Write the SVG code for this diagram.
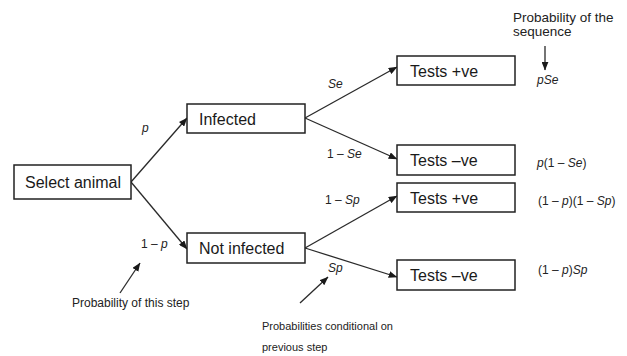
<svg xmlns="http://www.w3.org/2000/svg" width="627" height="356" viewBox="0 0 627 356">
<defs>
<marker id="ah" viewBox="0 0 10 8" refX="9.5" refY="4" markerWidth="9" markerHeight="7" markerUnits="userSpaceOnUse" orient="auto">
<path d="M0,0 L10,4 L0,8 z" fill="#1a1a1a"/>
</marker>
<style>
.box{fill:#fff;stroke:#222;stroke-width:1.5}
.nt{font-family:"Liberation Sans",Arial,sans-serif;font-size:16px;fill:#1a1a1a}
.lb{font-family:"Liberation Sans",Arial,sans-serif;font-size:12px;fill:#222}
.lg{font-size:13.5px}
.sm{font-size:11px}
.it{font-style:italic}
.cn{fill:none;stroke:#2a2a2a;stroke-width:1.3;marker-end:url(#ah)}
</style>
</defs>
<rect width="627" height="356" fill="#fff"/>
<g id="connectors">
<line class="cn" x1="131" y1="182" x2="187" y2="118"/>
<line class="cn" x1="131" y1="182" x2="187" y2="249"/>
<line class="cn" x1="305" y1="118" x2="397" y2="67"/>
<line class="cn" x1="305" y1="118" x2="397" y2="159"/>
<line class="cn" x1="305" y1="248" x2="397" y2="196"/>
<line class="cn" x1="305" y1="248" x2="397" y2="277"/>
<line class="cn" x1="120" y1="293" x2="140" y2="263"/>
<line class="cn" x1="300" y1="303" x2="328" y2="277"/>
<line class="cn" x1="545" y1="46" x2="545" y2="70"/>
</g>
<g id="select">
<rect class="box" x="14" y="165" width="117" height="34"/>
<text class="nt" x="25" y="188">Select animal</text>
</g>
<g id="infected">
<rect class="box" x="187" y="104" width="118" height="29"/>
<text class="nt" x="199" y="124.5">Infected</text>
</g>
<g id="notinfected">
<rect class="box" x="187" y="233" width="118" height="30"/>
<text class="nt" x="199" y="254">Not infected</text>
</g>
<g id="tp1">
<rect class="box" x="397" y="56" width="118" height="29"/>
<text class="nt" x="410" y="76.5">Tests +ve</text>
</g>
<g id="tn1">
<rect class="box" x="397" y="145" width="118" height="30"/>
<text class="nt" x="410" y="166">Tests –ve</text>
</g>
<g id="tp2">
<rect class="box" x="397" y="183" width="118" height="29"/>
<text class="nt" x="410" y="203.5">Tests +ve</text>
</g>
<g id="tn2">
<rect class="box" x="397" y="260" width="118" height="30"/>
<text class="nt" x="410" y="281">Tests –ve</text>
</g>
<g id="labels">
<text class="lb it" x="142" y="132">p</text>
<text class="lb" x="141" y="248">1 – <tspan class="it">p</tspan></text>
<text class="lb it" x="328" y="88">Se</text>
<text class="lb" x="327" y="158">1 – <tspan class="it">Se</tspan></text>
<text class="lb" x="325" y="204">1 – <tspan class="it">Sp</tspan></text>
<text class="lb it" x="328" y="272">Sp</text>
<text class="lb lg" x="513" y="22">Probability of the</text>
<text class="lb lg" x="513" y="36">sequence</text>
<text class="lb it" x="537" y="84">pSe</text>
<text class="lb" x="537" y="167"><tspan class="it">p</tspan>(1 – <tspan class="it">Se</tspan>)</text>
<text class="lb" x="538" y="205">(1 – <tspan class="it">p</tspan>)(1 – <tspan class="it">Sp</tspan>)</text>
<text class="lb" x="538" y="274">(1 – <tspan class="it">p</tspan>)<tspan class="it">Sp</tspan></text>
<text class="lb" x="72" y="307">Probability of this step</text>
<text class="lb sm" x="262" y="330">Probabilities conditional on</text>
<text class="lb sm" x="262" y="351">previous step</text>
</g>
</svg>
